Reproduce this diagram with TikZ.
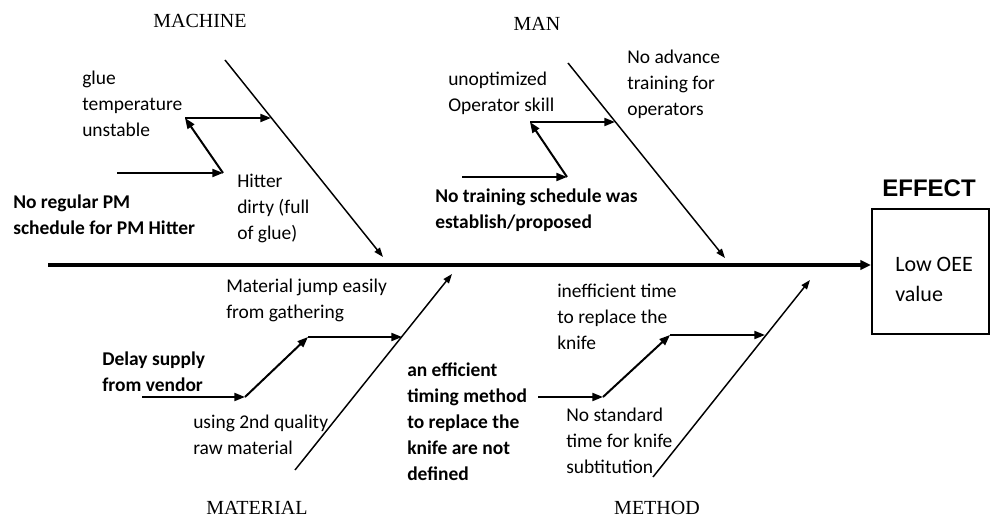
\documentclass[tikz,border=0pt]{standalone}
\usepackage{fontspec}
\setmainfont{Carlito}
\newfontfamily\labelfont{Liberation Serif}
\newfontfamily\effectfont{Liberation Sans}
\usetikzlibrary{arrows.meta}
\begin{document}
\begin{tikzpicture}[x=0.75pt,y=-0.75pt,
  txt/.style={anchor=base west, inner sep=0pt, align=left, font=\fontsize{14.6}{19.5}\selectfont},
  btxt/.style={txt, font=\fontsize{14.6}{19.5}\selectfont\bfseries},
  cat/.style={anchor=base, inner sep=0pt, font=\labelfont\fontsize{15}{18}\selectfont},
  bone/.style={line width=1.1pt, -{Triangle[length=7pt,width=5pt]}},
  sub/.style={line width=1.5pt, -{Triangle[length=8pt,width=6pt]}},
  spine/.style={line width=3pt, -{Triangle[length=8pt,width=7pt]}},
]
\useasboundingbox (0,0) rectangle (990,520);

% effect box
\node[draw, line width=1.5pt, minimum width=117*0.75pt, minimum height=125*0.75pt, anchor=north west, inner sep=0pt] (box) at (871,208) {};
\node[anchor=base, inner sep=0pt, font=\effectfont\bfseries\fontsize{18}{21}\selectfont] (effect) at (929,197) {EFFECT};
\node[anchor=base west, inner sep=0pt, align=left, font=\fontsize{16.5}{22.5}\selectfont] (oee) at (895,302) {Low OEE\\value};

% spine
\coordinate (s0) at (48,265);
\draw[spine] (s0) -- (box.west |- s0);

% ---------- MACHINE ----------
\node[cat] (machine) at (200,28) {MACHINE};
\coordinate (m0) at (225,60);
\coordinate (m1) at (383,257);
\draw[bone] (m0) -- (m1);
\coordinate (ma) at (185,118);
\coordinate (mb) at (271,118);
\coordinate (mc) at (223,173);
\coordinate (md) at (117,173);
\draw[sub] (ma) -- (mb);
\draw[sub] (mc) -- (ma);
\draw[sub] (md) -- (mc);
\node[txt] (glue) at (82,137) {glue\\temperature\\unstable};
\node[txt] (hitter) at (237,240) {Hitter\\dirty (full\\of glue)};
\node[btxt] (nopm) at (13,235) {No regular PM\\schedule for PM Hitter};

% ---------- MAN ----------
\node[cat] (man) at (537,31) {MAN};
\coordinate (n0) at (568,63);
\coordinate (n1) at (725,258);
\draw[bone] (n0) -- (n1);
\coordinate (na) at (530,122);
\coordinate (nb) at (615,122);
\coordinate (nc) at (567,177);
\coordinate (nd) at (462,177);
\draw[sub] (na) -- (nb);
\draw[sub] (nc) -- (na);
\draw[sub] (nd) -- (nc);
\node[txt] (unopt) at (448,112) {unoptimized\\Operator skill};
\node[txt] (noadv) at (627,116) {No advance\\training for\\operators};
\node[btxt] (notrain) at (435,229) {No training schedule was\\establish/proposed};

% ---------- MATERIAL ----------
\node[cat] (material) at (257,515) {MATERIAL};
\coordinate (t0) at (295,470);
\coordinate (t1) at (452,274);
\draw[bone] (t0) -- (t1);
\coordinate (ta) at (308,337);
\coordinate (tb) at (402,337);
\coordinate (tc) at (245,397);
\coordinate (td) at (142,397);
\draw[sub] (ta) -- (tb);
\draw[sub] (tc) -- (ta);
\draw[sub] (td) -- (tc);
\node[txt] (jump) at (226,319) {Material jump easily\\from gathering};
\node[btxt] (delay) at (102,392) {Delay supply\\from vendor};
\node[txt] (second) at (193,455) {using 2nd quality\\raw material};

% ---------- METHOD ----------
\node[cat] (method) at (657,515) {METHOD};
\coordinate (h0) at (653,477);
\coordinate (h1) at (810,280);
\draw[bone] (h0) -- (h1);
\coordinate (ha) at (670,335);
\coordinate (hb) at (765,335);
\coordinate (hc) at (603,397);
\coordinate (hd) at (538,397);
\draw[sub] (ha) -- (hb);
\draw[sub] (hc) -- (ha);
\draw[sub] (hd) -- (hc);
\node[txt] (ineff) at (557,350) {inefficient time\\to replace the\\knife};
\node[btxt] (timing) at (407,480) {an efficient\\timing method\\to replace the\\knife are not\\defined};
\node[txt] (nostd) at (566,474) {No standard\\time for knife\\subtitution};
\end{tikzpicture}
\end{document}
